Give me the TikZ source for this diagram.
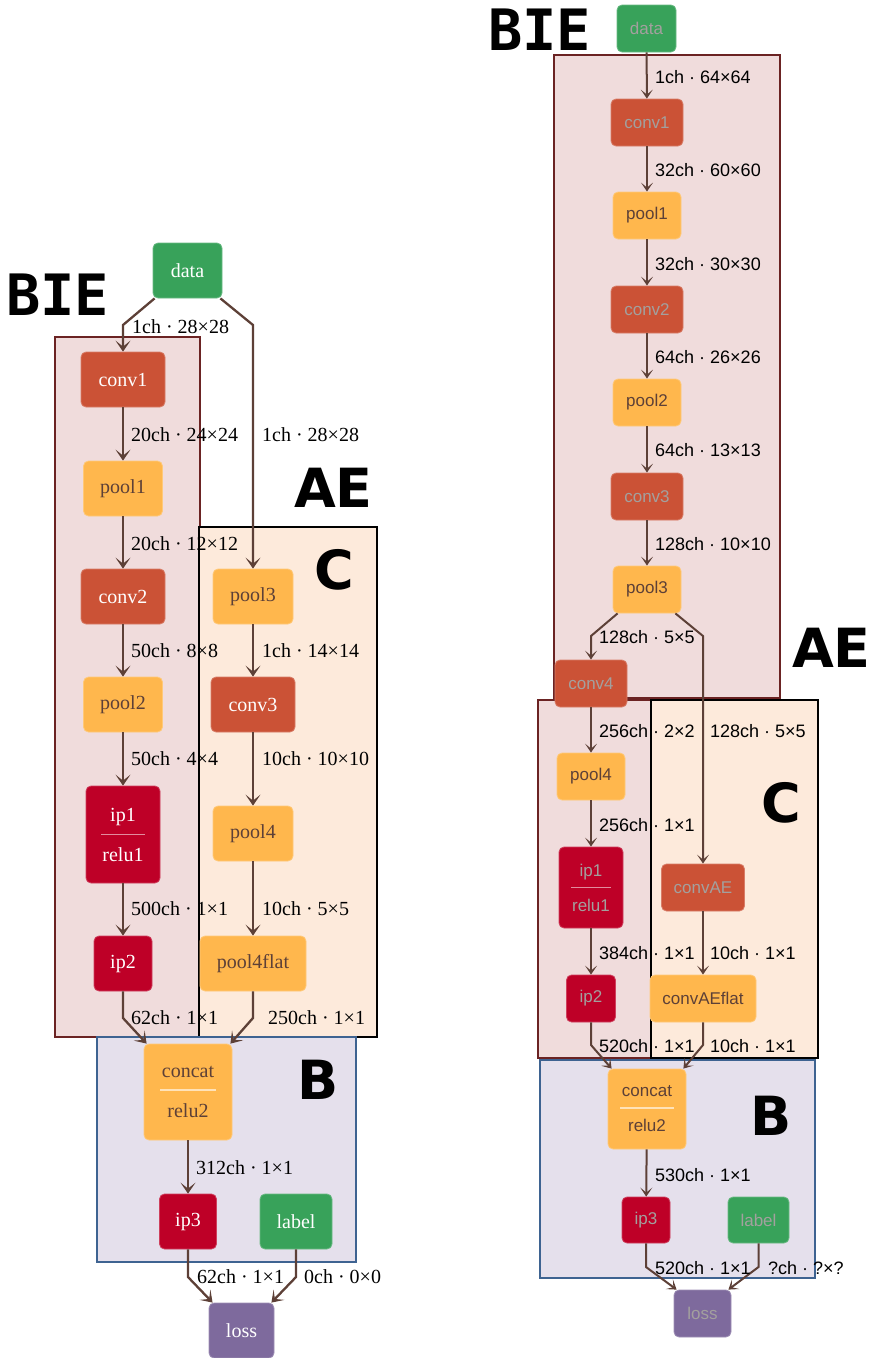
\documentclass[tikz,border=0pt]{standalone}
\usepackage{fontspec}
\setmainfont{Liberation Serif}
\newfontfamily\rsans{Liberation Sans}
\newfontfamily\tagmono{DejaVu Sans Mono}
\newfontfamily\tagsans{DejaVu Sans}
\usetikzlibrary{arrows.meta}

\definecolor{convc}{HTML}{CB5236}
\definecolor{poolc}{HTML}{FFB74D}
\definecolor{ipc}{HTML}{BE0027}
\definecolor{datac}{HTML}{38A25A}
\definecolor{lossc}{HTML}{7E6A9D}
\definecolor{arrc}{HTML}{5D4037}
\definecolor{biefill}{HTML}{F0DCDC}
\definecolor{bieline}{HTML}{6B2323}
\definecolor{aefill}{HTML}{FDEADB}
\definecolor{bfill}{HTML}{E5E0EC}
\definecolor{bline}{HTML}{3E6391}
\definecolor{rtext}{HTML}{A3A09E}
\definecolor{pooltext}{HTML}{5D4037}

\tikzset{
  layer/.style={rectangle, rounded corners=5pt, inner sep=0pt, align=center, line width=0.8pt},
  lside/.style={minimum height=55pt, font=\fontsize{20}{40}\selectfont},
  rside/.style={minimum height=47pt, font=\rsans\fontsize{17}{35}\selectfont},
  convL/.style={layer, lside, fill=convc, draw=convc!75!white, text=white},
  poolL/.style={layer, lside, fill=poolc, draw=poolc!75!white, text=pooltext},
  ipL/.style={layer, lside, fill=ipc, draw=ipc!75!white, text=white},
  dataL/.style={layer, lside, fill=datac, draw=datac!75!white, text=white},
  lossL/.style={layer, lside, fill=lossc, draw=lossc!75!white, text=white},
  convR/.style={layer, rside, fill=convc, draw=convc!75!white, text=rtext},
  poolR/.style={layer, rside, fill=poolc, draw=poolc!75!white, text=pooltext},
  ipR/.style={layer, rside, fill=ipc, draw=ipc!75!white, text=rtext},
  dataR/.style={layer, rside, fill=datac, draw=datac!75!white, text=rtext},
  lossR/.style={layer, rside, fill=lossc, draw=lossc!75!white, text=rtext},
  flow/.style={draw=arrc, line width=2.3pt, -{Stealth[length=11pt,width=15pt,inset=6pt]}},
  flowR/.style={draw=arrc, line width=2pt, -{Stealth[length=9pt,width=12pt,inset=5pt]}},
  lblL/.style={anchor=west, inner sep=0pt, font=\fontsize{20}{20}\selectfont},
  lblR/.style={anchor=west, inner sep=0pt, font=\rsans\fontsize{18}{18}\selectfont},
  ipsep/.style={draw=ipc!45!white, line width=1.5pt},
  concatsep/.style={draw=poolc!40!white, line width=1.5pt},
  biebox/.style={fill=biefill, draw=bieline, line width=2pt},
  aebox/.style={fill=aefill, draw=black, line width=2.6pt},
  bbox/.style={fill=bfill, draw=bline, line width=2.2pt},
  monotag/.style={inner sep=0pt, font=\tagmono\bfseries\fontsize{57}{57}\selectfont},
  sanstag/.style={inner sep=0pt, font=\tagsans\bfseries\fontsize{54}{54}\selectfont},
}

\begin{document}
\begin{tikzpicture}[x=1pt, y=-1pt]
\useasboundingbox (0,0) rectangle (875,1358);

% ---------------- left network: group boxes ----------------
\draw[biebox] (55,337) rectangle (200,1037);
\draw[aebox] (199,527) rectangle (377,1037);
\draw[bbox] (97,1037) rectangle (356,1262);

\node[monotag] (lbietag) at (57.5,295) {BIE};
\node[sanstag] (laetag) at (333.5,487.5) {AE};
\node[sanstag] (lctag) at (334,570) {C};
\node[sanstag] (lbtag) at (318,1080) {B};

% ---------------- left network: layers ----------------
\node[dataL, minimum width=69pt] (ldata) at (187.5,270.5) {data};
\node[convL, minimum width=84pt] (lconv1) at (123,379.5) {conv1};
\node[poolL, minimum width=79pt] (lpool1) at (123,488.5) {pool1};
\node[convL, minimum width=84pt] (lconv2) at (123,596.5) {conv2};
\node[poolL, minimum width=79pt] (lpool2) at (123,704.5) {pool2};
\node[ipL, minimum width=74pt, minimum height=97pt] (lip1) at (123,834.5) {ip1\\relu1};
\node[ipL, minimum width=58pt] (lip2) at (123,963.5) {ip2};
\node[poolL, minimum width=80pt] (lpool3) at (253,596.5) {pool3};
\node[convL, minimum width=84pt] (lconv3) at (253,704.5) {conv3};
\node[poolL, minimum width=80pt] (lpool4) at (253,833.5) {pool4};
\node[poolL, minimum width=106pt] (lpool4f) at (253,963.5) {pool4flat};
\node[poolL, minimum width=88pt, minimum height=96pt] (lconcat) at (188,1092) {concat\\relu2};
\node[ipL, minimum width=57pt] (lip3) at (188,1221.5) {ip3};
\node[dataL, minimum width=72pt] (llabel) at (296,1221.5) {label};
\node[lossL, minimum width=65pt] (lloss) at (241.5,1330.5) {loss};

\draw[ipsep] ([xshift=-22pt]lip1.center) -- ([xshift=22pt]lip1.center);
\draw[concatsep] ([xshift=-28pt,yshift=2pt]lconcat.center) -- ([xshift=28pt,yshift=2pt]lconcat.center);

% bend heights of the left connectors
\coordinate (lsplit) at (0,325);
\coordinate (lmerge) at (0,1018);
\coordinate (lfinal) at (0,1277);

% ---------------- left network: connectors ----------------
\draw[flow] ([xshift=2pt]ldata.south west) -- (lconv1.north |- lsplit) -- (lconv1.north);
\draw[flow] ([xshift=-2pt]ldata.south east) -- (lpool3.north |- lsplit) -- (lpool3.north);
\draw[flow] (lconv1) -- (lpool1);
\draw[flow] (lpool1) -- (lconv2);
\draw[flow] (lconv2) -- (lpool2);
\draw[flow] (lpool2) -- (lip1);
\draw[flow] (lip1) -- (lip2);
\draw[flow] (lpool3) -- (lconv3);
\draw[flow] (lconv3) -- (lpool4);
\draw[flow] (lpool4) -- (lpool4f);
\draw[flow] (lip2.south) -- (lip2.south |- lmerge) -- ([xshift=3pt]lconcat.north west);
\draw[flow] (lpool4f.south) -- (lpool4f.south |- lmerge) -- ([xshift=-2pt]lconcat.north east);
\draw[flow] (lconcat) -- (lip3);
\draw[flow] (lip3.south) -- (lip3.south |- lfinal) -- ([xshift=4pt]lloss.north west);
\draw[flow] (llabel.south) -- (llabel.south |- lfinal) -- ([xshift=-3pt]lloss.north east);

% ---------------- left network: blob sizes on the connectors ----------------
\node[lblL] (le1) at (132,327) {1ch · 28×28};
\node[lblL] (le2) at (131,435) {20ch · 24×24};
\node[lblL] (le3) at (262,435) {1ch · 28×28};
\node[lblL] (le4) at (131,544) {20ch · 12×12};
\node[lblL] (le5) at (131,651) {50ch · 8×8};
\node[lblL] (le6) at (262,651) {1ch · 14×14};
\node[lblL] (le7) at (131,759) {50ch · 4×4};
\node[lblL] (le8) at (262,759) {10ch · 10×10};
\node[lblL] (le9) at (131,909) {500ch · 1×1};
\node[lblL] (le10) at (262,909) {10ch · 5×5};
\node[lblL] (le11) at (131,1018) {62ch · 1×1};
\node[lblL] (le12) at (268,1018) {250ch · 1×1};
\node[lblL] (le13) at (196,1168) {312ch · 1×1};
\node[lblL] (le14) at (197,1277) {62ch · 1×1};
\node[lblL] (le15) at (304,1277) {0ch · 0×0};

% ---------------- right network: group boxes ----------------
\draw[biebox, line width=2.6pt] (554,55) rectangle (780,698);
\draw[biebox, line width=1.4pt] (538,700) rectangle (652,1058);
\draw[aebox, line width=2.4pt] (651,700) rectangle (818,1058);
\draw[bbox] (540,1060) rectangle (815,1278);

\node[monotag] (rbietag) at (539.5,30) {BIE};
\node[sanstag] (raetag) at (831.5,647.5) {AE};
\node[sanstag] (rctag) at (781.5,803) {C};
\node[sanstag] (rbtag) at (771.5,1116) {B};

% ---------------- right network: layers ----------------
\node[dataR, minimum width=59pt] (rdata) at (646.5,28.5) {data};
\node[convR, minimum width=72pt] (rconv1) at (647,122.5) {conv1};
\node[poolR, minimum width=68pt] (rpool1) at (647,215.5) {pool1};
\node[convR, minimum width=72pt] (rconv2) at (647,309.5) {conv2};
\node[poolR, minimum width=68pt] (rpool2) at (647,402.5) {pool2};
\node[convR, minimum width=72pt] (rconv3) at (647,496.5) {conv3};
\node[poolR, minimum width=68pt] (rpool3) at (647,589.5) {pool3};
\node[convR, minimum width=72pt] (rconv4) at (591,683.5) {conv4};
\node[poolR, minimum width=68pt] (rpool4) at (591,776.5) {pool4};
\node[ipR, minimum width=64pt, minimum height=81pt] (rip1) at (591,887.5) {ip1\\relu1};
\node[ipR, minimum width=49pt] (rip2) at (591,998.5) {ip2};
\node[convR, minimum width=83pt] (rconvae) at (703,887.5) {convAE};
\node[poolR, minimum width=106pt] (rconvaef) at (703,998.5) {convAEflat};
\node[poolR, minimum width=78pt, minimum height=80pt] (rconcat) at (647,1109) {concat\\relu2};
\node[ipR, minimum width=48pt, minimum height=46pt] (rip3) at (646,1220) {ip3};
\node[dataR, minimum width=61pt, minimum height=46pt] (rlabel) at (758.5,1220) {label};
\node[lossR, minimum width=57pt] (rloss) at (702.5,1313.5) {loss};

\draw[ipsep] ([xshift=-20pt]rip1.center) -- ([xshift=20pt]rip1.center);
\draw[concatsep] ([xshift=-27pt,yshift=1pt]rconcat.center) -- ([xshift=27pt,yshift=1pt]rconcat.center);

% bend heights of the right connectors
\coordinate (rsplit) at (0,636);
\coordinate (rmerge) at (0,1045);
\coordinate (rfinal) at (0,1267);

% ---------------- right network: connectors ----------------
\draw[flowR] (rdata) -- (rconv1);
\draw[flowR] (rconv1) -- (rpool1);
\draw[flowR] (rpool1) -- (rconv2);
\draw[flowR] (rconv2) -- (rpool2);
\draw[flowR] (rpool2) -- (rconv3);
\draw[flowR] (rconv3) -- (rpool3);
\draw[flowR] ([xshift=5pt]rpool3.south west) -- (rconv4.north |- rsplit) -- (rconv4.north);
\draw[flowR] ([xshift=-6pt]rpool3.south east) -- (rconvae.north |- rsplit) -- (rconvae.north);
\draw[flowR] (rconv4) -- (rpool4);
\draw[flowR] (rpool4) -- (rip1);
\draw[flowR] (rip1) -- (rip2);
\draw[flowR] (rconvae) -- (rconvaef);
\draw[flowR] (rip2.south) -- (rip2.south |- rmerge) -- ([xshift=4pt]rconcat.north west);
\draw[flowR] (rconvaef.south) -- (rconvaef.south |- rmerge) -- ([xshift=-3pt]rconcat.north east);
\draw[flowR] (rconcat) -- (rip3);
\draw[flowR] (rip3.south) -- (rip3.south |- rfinal) -- ([xshift=3pt]rloss.north west);
\draw[flowR] (rlabel.south) -- (rlabel.south |- rfinal) -- ([xshift=-3pt]rloss.north east);

% ---------------- right network: blob sizes on the connectors ----------------
\node[lblR] (re1) at (655,77) {1ch · 64×64};
\node[lblR] (re2) at (655,170) {32ch · 60×60};
\node[lblR] (re3) at (655,264) {32ch · 30×30};
\node[lblR] (re4) at (655,357) {64ch · 26×26};
\node[lblR] (re5) at (655,450) {64ch · 13×13};
\node[lblR] (re6) at (655,544) {128ch · 10×10};
\node[lblR] (re7) at (599,637) {128ch · 5×5};
\node[lblR] (re8) at (599,731) {256ch · 2×2};
\node[lblR] (re9) at (710,731) {128ch · 5×5};
\node[lblR] (re10) at (599,825) {256ch · 1×1};
\node[lblR] (re11) at (599,953) {384ch · 1×1};
\node[lblR] (re12) at (710,953) {10ch · 1×1};
\node[lblR] (re13) at (599,1046) {520ch · 1×1};
\node[lblR] (re14) at (710,1046) {10ch · 1×1};
\node[lblR] (re15) at (655,1175) {530ch · 1×1};
\node[lblR] (re16) at (655,1268) {520ch · 1×1};
\node[lblR] (re17) at (768,1268) {?ch · ?×?};
\end{tikzpicture}
\end{document}
